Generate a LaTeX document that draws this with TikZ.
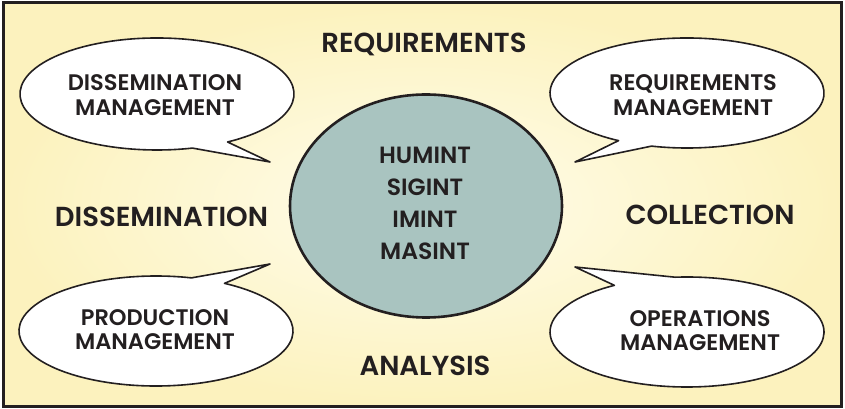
\documentclass[tikz,border=0pt]{standalone}
\usepackage{fontspec}
\usetikzlibrary{shapes.geometric}
\setmainfont{Poppins}[UprightFont=* SemiBold]
\definecolor{ink}{HTML}{231F20}
\definecolor{creamin}{HTML}{FFFDEC}
\definecolor{creamout}{HTML}{FCF2BE}
\definecolor{core}{HTML}{A9C4C0}
\tikzset{
  bubble/.style={draw=ink, line width=1.6pt, fill=white, line join=round},
  biglabel/.style={text=ink, font=\fontsize{27.5}{30}\selectfont, anchor=base, inner sep=0pt},
  bubbletext/.style={text=ink, font=\fontsize{22.5}{24.5}\selectfont, align=center, inner sep=0pt},
  coretext/.style={text=ink, font=\fontsize{23.5}{32}\selectfont, align=center, inner sep=0pt},
}
\begin{document}
\begin{tikzpicture}[x=1pt,y=1pt]
\useasboundingbox (0,0) rectangle (845,409);
% background
\shade[inner color=creamin, outer color=creamout] (3.5,2.5) rectangle (841.5,406);
% central ellipse
\node[draw=ink, line width=2.6pt, fill=core, ellipse, minimum width=272pt, minimum height=223pt, inner sep=0pt] (core) at (426,203) {};
\node[coretext] (coretxt) at (425,205.5) {HUMINT\\SIGINT\\IMINT\\MASINT};
% bubbles
\coordinate (tltip) at (270,247);
\coordinate (trtip) at (575,247);
\coordinate (bltip) at (270,145);
\coordinate (brtip) at (575,142);
\coordinate (tlc) at (157,315);
\coordinate (trc) at (687,316);
\coordinate (blc) at (156,78);
\coordinate (brc) at (687,77);
\draw[bubble] (tlc) ++(-59:137 and 56) arc[start angle=-59, end angle=285, x radius=137, y radius=56] -- (tltip) -- cycle;
\draw[bubble] (trc) ++(-105:137 and 55) arc[start angle=-105, end angle=240, x radius=137, y radius=55] -- (trtip) -- cycle;
\draw[bubble] (blc) ++(60:137 and 55) arc[start angle=60, end angle=-285, x radius=137, y radius=55] -- (bltip) -- cycle;
\draw[bubble] (brc) ++(95:137 and 55) arc[start angle=95, end angle=-238, x radius=137, y radius=55] -- (brtip) -- cycle;
\node[bubbletext] (tltxt) at (155,314) {DISSEMINATION\\MANAGEMENT};
\node[bubbletext] (trtxt) at (693,314) {REQUIREMENTS\\MANAGEMENT};
\node[bubbletext] (bltxt) at (155,79.5) {PRODUCTION\\MANAGEMENT};
\node[bubbletext] (brtxt) at (700,78.5) {OPERATIONS\\MANAGEMENT};
% big labels
\node[biglabel] (req) at (424,356) {REQUIREMENTS};
\node[biglabel] (dis) at (161.5,182) {DISSEMINATION};
\node[biglabel] (col) at (710,184) {COLLECTION};
\node[biglabel] (ana) at (425,33) {ANALYSIS};
% frame
\draw[ink, line width=3pt] (3.5,2.5) rectangle (841.5,406);
\end{tikzpicture}
\end{document}
